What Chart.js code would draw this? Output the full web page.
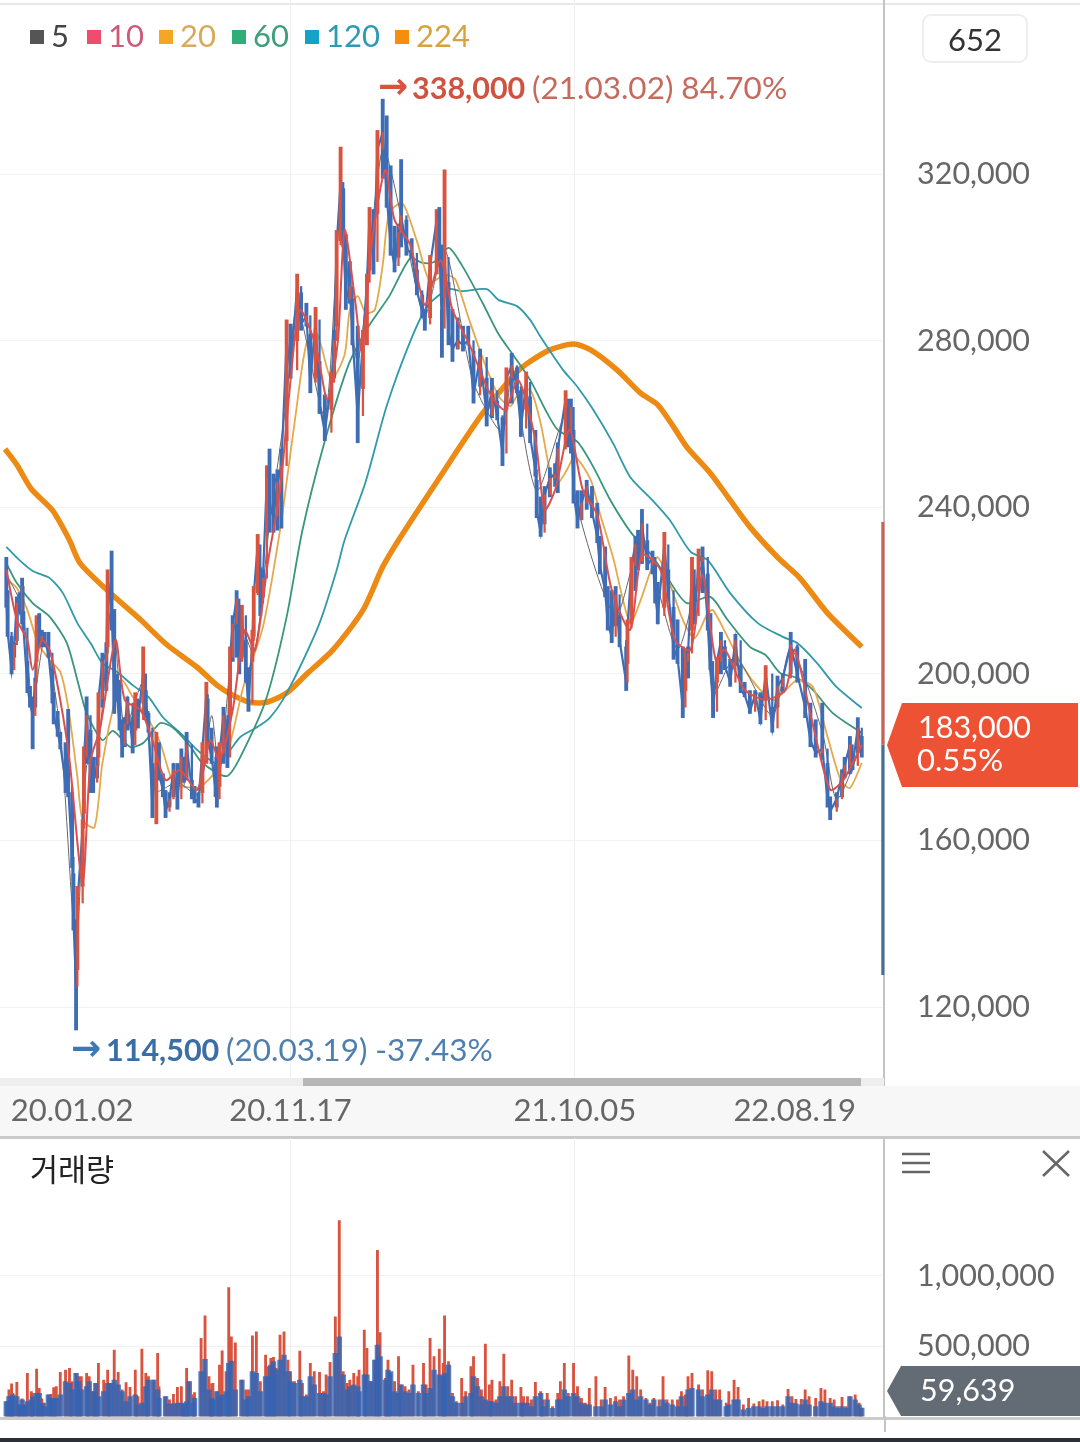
<!DOCTYPE html>
<html>
<head>
<meta charset="utf-8">
<script src="https://cdn.jsdelivr.net/npm/chart.js@4/dist/chart.umd.min.js"></script>
<style>
html,body{margin:0;padding:0;background:#fff;}
#wrap{position:relative;width:1080px;height:1442px;overflow:hidden;background:#fff;font-family:Lato,sans-serif;}
canvas{position:absolute;left:0;}
.box{position:absolute;}
.t{position:absolute;white-space:nowrap;font:31px/1 Lato,sans-serif;}
</style>
</head>
<body>
<div id="wrap">
  <div class="box" style="left:0;top:3px;width:1080px;height:2px;background:#e9e9e9"></div>
  <div class="box" style="left:0;top:1086px;width:1080px;height:50px;background:#f7f7f7"></div>
  <div class="box" style="left:0;top:1136px;width:1080px;height:3px;background:#c9c9c9"></div>
  <div class="box" style="left:0;top:1417px;width:1080px;height:3px;background:#cbcbcb"></div>
  <div class="box" style="left:884px;top:1416px;width:2px;height:16px;background:#c4c4c4"></div>
  <div class="box" style="left:0;top:1438px;width:1080px;height:4px;background:#2d3038"></div>
  <canvas id="priceChart" width="1080" height="1136" style="top:0"></canvas>
  <canvas id="volumeChart" width="1080" height="294" style="top:1138px"></canvas>
  <div class="box" style="left:0;top:1078px;width:884px;height:8px;background:#eeeeee"></div>
  <div class="box" style="left:303px;top:1078px;width:558px;height:8px;background:#b7b7b7"></div>
  <div id="legend"></div>
  <div class="box" style="left:922px;top:14px;width:102px;height:45px;border:2px solid #eeeeee;border-radius:9px"></div>
  <div class="t" style="left:922px;top:24px;width:106px;text-align:center;color:#333">652</div>

  <div class="t" style="left:378px;top:68px;color:#d9533f;font:bold 36px/1 'DejaVu Sans'">→</div>
  <div class="t" style="left:412px;top:72px;color:#cf5340;font:bold 30.5px/1 Lato" id="hiVal"></div>
  <div class="t" style="left:532px;top:72px;color:#c56a5c;font-size:31.5px" id="hiTxt"></div>
  <div class="t" style="left:71px;top:1030px;color:#3f78b5;font:bold 36px/1 'DejaVu Sans'">→</div>
  <div class="t" style="left:106px;top:1034px;color:#3b6ea5;font:bold 30.5px/1 Lato" id="loVal"></div>
  <div class="t" style="left:226px;top:1034px;color:#4f7fae;font-size:31.5px" id="loTxt"></div>

  <svg class="box" style="left:887px;top:703px" width="193" height="84"><polygon points="0,42 15,0 191,0 191,84 15,84" fill="#ee5235"/></svg>
  <div class="t" style="left:918px;top:711px;color:#fff;font-size:30.5px" id="tagPrice"></div>
  <div class="t" style="left:917px;top:744px;color:#fff" id="tagPct"></div>
  <svg class="box" style="left:887px;top:1366px" width="193" height="50"><polygon points="0,25 14,0 193,0 193,50 14,50" fill="#636b74"/></svg>
  <div class="t" style="left:920px;top:1374px;color:#fff;font-size:30.5px" id="tagVol"></div>

  <div class="t" style="left:30px;top:1153px;color:#222;font:30.5px/1 'Noto Sans CJK KR'">거래량</div>
  <svg class="box" style="left:900px;top:1148px" width="172" height="32" stroke="#666" stroke-width="2.5">
    <line x1="2" y1="6" x2="30" y2="6"/><line x1="2" y1="15" x2="30" y2="15"/><line x1="2" y1="24" x2="30" y2="24"/>
    <line x1="143" y1="3" x2="169" y2="28"/><line x1="169" y1="3" x2="143" y2="28"/>
  </svg>
</div>
<script>
/* prices in thousands of won, volumes in thousands of shares. x = trading day counted from 20.01.02 */
var priceTicks=[120,160,200,240,280,320];
var volumeTicks=[500,1000];
var dateDays=[51,217,433,600];
var dateLabels=['20.01.02','20.11.17','21.10.05','22.08.19'];
var gridDays=[217,433];

var candleDays=[1,2,5,7,9,11,13,14,17,19,
21,23,24,26,28,30,33,36,37,40,
42,46,48,51,52,54,55,59,60,62,
65,67,70,71,74,77,78,81,83,85,
87,89,91,93,97,99,101,105,107,109,
112,115,117,120,122,125,128,131,134,136,
138,142,144,147,150,153,154,157,160,161,
163,166,169,171,173,176,178,180,183,185,
188,189,192,194,196,199,201,204,207,210,
214,217,222,225,229,232,236,239,243,248,
250,252,255,257,259,262,264,268,272,275,
277,280,283,287,290,293,296,299,301,305,
309,313,317,319,323,328,330,332,334,337,
340,344,348,352,356,361,366,370,374,378,
381,385,389,392,396,399,403,404,407,410,
414,418,420,426,428,430,432,435,438,442,
446,450,452,456,458,461,464,467,472,473,
476,479,481,484,488,492,494,496,501,504,
508,511,515,517,519,522,524,527,530,534,
536,538,541,544,547,551,555,559,562,566,
570,574,578,583,587,591,597,602,608,612,
616,621,625,627,632,636,638,642,644,648,651];
var candleHighs=[228,220,209,207.5,218.5,219.5,223,215,203,197,
194.5,199,214,214.5,210.5,210,210,201,195.5,191,
186,183.5,191.5,171.5,152,138.5,149,165,182.5,194.5,
186.5,180,180,195.5,205,207.5,225,229.5,215.5,200,
198.5,189,189.5,194.5,189.5,195.5,191.5,206.5,196,190.5,
178.5,186,183.5,176,172,171.5,178.5,178.5,182,178,
186,174.5,173,171.5,183.5,198,194,187,178.5,182.5,
183.5,192,189,206.5,214,220,214,216.5,208,201.5,
210.5,221,233.5,225.5,225,250,254,248,249,254,
285,284,296,291.5,289,281.5,288,275,267,272.5,
282.5,306.5,326.5,316.5,305.5,299,290,283.5,282.5,296,
312,311.5,330.5,338,334,322,307.5,308,323.5,309,
304.5,297,291,287.5,300.5,311.5,312,287.5,321,294,
287.5,285.5,283.5,283.5,277.5,278,271,271,265.5,261.5,
273.5,277,273.5,268,272.5,266.5,258.5,246.5,242.5,245,
249.5,250.5,255.5,268,264,266,258.5,244,244,246.5,
245,241,233,230.5,221,220,221,214,206.5,213,
228,233,234.5,239.5,232,229.5,226.5,222,234,225,
216,213,206.5,206,206.5,228,221,230,230.5,224,
214.5,198,204,210,206.5,203.5,209.5,202,198,196,
196,195.5,202,192,199.5,200,210,206.5,203.5,193,
189,193,178.5,170.5,171.5,177,180,185,180,189.5,185];
var candleLows=[216,209,200,204,208,214.5,212,210.5,195.5,192,
182,192,203,206.5,206.5,206.5,204,193,188,185,
182,171.5,170.5,153.5,138.5,114.5,129,149,166.5,178.5,
171.5,171.5,175,180,192,196,206.5,210.5,190.5,193.5,
186.5,180,182.5,186.5,181,186.5,187,193,189.5,186,
165.5,164,174.5,170.5,165.5,168,170.5,167.5,174,174,
174.5,170,169,168,171.5,178.5,182.5,178.5,170.5,168,
173,178.5,177.5,190,203,204,200,204,198,191,
203,209,219.5,214,218.5,235,234,234,234.5,235,
256,271,280,282.5,283.5,267.5,271,262.5,256,263.5,
271,283.5,304,302.5,287.5,289,279,255.5,268.5,279,
297,296,310.5,319,312,300.5,296.5,300,302.5,300.5,
300,291,285.5,282.5,285.5,296,299,276,290.5,279,
275,278,277.5,279,265,269,259.5,261.5,261,250,
263.5,265,267.5,257,263.5,255.5,247.5,237.5,233,236,
242.5,245,243.5,254.5,254.5,253,241,235,237,239.5,
237.5,231.5,224,218.5,210.5,207.5,211.5,206.5,196,202.5,
212,220,225,226.5,225,224,217,212,216,218,
203.5,202.5,189.5,196,199,210.5,212,220,219.5,210.5,
201,189.5,198,200,201,197,202,195.5,194.5,190.5,
193,188,194,186,192,195.5,200,198,189.5,182.5,
180,179.5,168,165,168,170.5,175,176,177,181,180];
var candleCloses=[218,210,201,207,217,215,221,211,197,193,
190,198,212,208,209,208,205,195,190,186,
183,174,173,156,141,125,145,163,180,190,
175,174,178,194,203,205,223,215,196,195,
188,183,188,193,183,194,189,200,191,187,
168,180,176,172,167,170,177,170,180,175,
183,172,170,169,182,195,184,180,172,170,
181,190,180,204,212,218,203,214,200,193,
208,219,231,217,223,247,240,238,246,250,
280,273,293,284,286,270,285,265,258,270,
280,303,318,305,290,293,281,262,280,294,
310,299,326,330,315,303,298,306,310,302,
301,292,287,284,298,309,303,283,300,282,
278,280,279,280,267,276,262,268,262,253,
271,274,269,259,270,257,249,239,234,243,
247,248,254,266,258,264,243,237,241,245,
239,233,226,220,212,209,219,208,198,211,
226,231,227,236,226,228,219,214,231,220,
206,204,192,203,205,225,214,227,228,213,
203,191,203,208,202,198,208,196,195,191,
195,189,200,187,197,199,207,200,192,184,
181,182,170,167,170,176,178,183,178,187,183];

var ma5Days=[1,13,21,30,42,54,62,70,81,91,105,115,131,147,157,163,176,189,201,214,222,243,255,268,287,305,319,334,356,378,385,404,426,435,464,484,511,530,538,555,583,597,621,632,651];
var ma5Values=[224,216,193,208,186,135,178,180,216,187,198,172,174,171,190,176,214,205,236,266,288,262,310,275,326,304,286,302,270,258,272,244,262,240,214,232,206,226,195,204,190,206,186,170,183];
var ma10Days=[1,9,17,21,28,34,42,49,59,65,72,84,91,103,112,122,133,146,156,163,173,182,190,200,209,217,224,236,245,253,258,266,271,279,289,296,308,319,331,340,353,369,380,390,403,410,418,429,439,450,461,475,484,498,509,521,530,540,547,562,578,593,600,613,627,637,651];
var ma10Values=[225,213,208.1,201,208.1,205.7,193.7,179.3,149.8,179.3,186.5,208.1,193.7,191.3,184.1,174.5,176.9,172.1,184.1,179.3,191.3,210.5,205.7,227.3,244.1,270.6,287.4,279,265.8,280.2,306.6,289.8,277.8,304.2,321,309,303,288.6,299.4,287.4,279,267,263.4,270.6,256.2,239.4,244.2,258.6,244.2,238.2,220.2,210.6,228.6,225,208.2,205.8,223.8,203.4,205.8,196.2,193.8,196.2,205.8,189,172.2,174.5,183];
var ma20Days=[2,9,17,25,34,42,48,55,59,68,74,84,89,97,108,118,128,138,148,161,171,181,196,209,214,221,229,237,248,258,262,268,274,281,287,292,302,313,323,334,342,352,363,375,384,389,399,407,414,420,427,433,445,452,462,475,483,490,496,505,515,524,534,538,549,561,574,584,591,602,614,625,635,642,651];
var ma20Values=[222.5,220.6,215.3,207.4,203.3,200.5,192,175.2,164.9,163.2,178.6,194.5,198.5,194.5,189.6,183.4,173.8,172.8,172.8,176.9,183.4,196.8,211.3,234.5,246.1,262.6,279.2,281.6,270.8,276.6,287.4,290.7,286.7,287.4,298.2,310.7,313,303.9,294.1,295.8,294.8,285.7,275.8,266.7,264.3,266.7,268.2,260.2,249,245.8,249,252.1,246.6,238.6,228,212.2,217.7,224.2,228,221.8,213,208.6,214.6,215.3,208.9,201.6,196.1,193.7,195.4,198.5,196.8,184.9,174.5,172.6,178.6];
var ma60Days=[1,9,21,34,47,55,62,74,82,95,105,118,128,141,150,169,184,199,214,226,243,261,276,292,308,317,326,337,347,363,375,386,399,412,420,435,447,460,476,490,503,518,536,549,566,578,589,602,614,629,651];
var ma60Values=[226.6,221.8,217,213.7,207.4,198.5,190.6,184.1,186.3,182.5,183.4,188.2,187,182.5,178.6,175.5,183.4,194.5,213.7,234.5,255.9,274.2,283.3,290.7,299.8,298.7,298.9,302.3,298.2,289,281.6,276.6,270.6,262.6,258.6,255.7,249.7,241.7,233.8,229,223.2,217,218.5,213,206.5,204.5,200.2,199,196.1,190.6,185.8];
var ma120Days=[1,11,21,34,44,55,65,74,85,97,109,120,135,148,161,171,179,192,201,211,224,239,252,258,274,290,308,321,337,347,366,375,389,399,407,424,435,447,462,475,492,505,521,534,551,572,591,602,617,632,651];
var ma120Values=[230.5,227.3,224.7,223,219.4,212.2,207.4,202.6,200.5,197.3,194.5,189.6,185.3,181.2,178.6,181.7,184.9,187.3,189.4,193.7,201.6,212.2,224.9,232.1,246.1,264.3,279.9,288.3,292.4,291.9,292.4,289.8,288.3,285,280.9,273,268.9,263.4,255.4,247.3,241.7,237,229.3,227.3,219.4,212.2,208.9,207.4,202.6,196.8,191.8];
var ma224Days=[0,9,20,36,49,57,80,103,123,146,161,173,186,199,214,230,249,272,287,299,328,363,389,397,414,432,445,465,483,496,508,518,536,551,566,587,604,625,651];
var ma224Values=[254,250.2,244.4,239.3,232.1,226.6,219.4,213,207,201.6,197.3,194.9,193.2,193.2,195.4,200.2,205.7,215.3,225.7,232.1,246.1,262.6,272.5,274.6,277.8,279.2,277.8,273,267.4,264.6,259.3,254.5,248.2,241.7,235.3,228,223,214.6,206.5];

var rangeDay=667;
var rangeUp=[183,236.5];
var rangeDown=[183,127.7];

var volDays=[1,3,5,6,9,11,13,15,17,20,
21,24,26,28,30,33,35,37,39,42,
46,49,51,54,56,58,62,64,67,69,
71,75,78,80,83,86,89,92,95,99,
101,104,107,109,113,116,117,122,125,128,
131,134,136,138,140,143,144,149,152,155,
157,158,161,163,165,168,170,172,175,180,
183,185,188,191,194,198,200,202,204,206,
209,212,215,217,220,224,226,229,232,235,
239,242,244,247,251,254,257,260,262,265,
268,269,273,275,278,281,283,285,289,291,
293,296,299,301,304,307,310,314,318,320,
323,326,330,333,334,337,340,343,347,350,
354,356,359,362,365,368,370,373,376,379,
382,385,388,392,394,397,400,403,407,409,
412,416,420,422,425,428,432,435,438,441,
444,449,453,456,460,464,467,470,474,477,
480,483,487,490,493,497,500,503,507,511,
514,517,519,522,527,530,534,537,540,543,
548,550,554,557,561,565,569,573,576,579,
583,587,591,595,598,601,605,608,611,616,
620,623,627,630,633,636,639,642,646,649,651];
var volUp=[106,189,232,165,243,83,125,83,307,177,
165,338,201,125,95,154,158,206,213,314,
331,343,248,307,284,284,307,284,177,236,
378,260,331,236,473,314,189,241,208,331,
142,480,307,284,260,449,213,142,118,158,
208,213,71,343,248,154,170,556,716,284,
232,236,177,366,468,319,917,567,525,260,
189,189,574,603,248,437,355,414,421,343,
579,603,402,319,248,466,236,154,378,319,
314,177,296,385,709,1395,319,236,260,307,
284,331,615,485,248,402,1182,598,272,402,
307,248,426,225,213,189,366,177,378,225,
556,426,480,378,716,390,165,106,272,177,
355,426,272,189,515,225,260,118,248,444,
213,260,142,208,142,142,118,243,177,118,
165,71,165,248,378,165,378,213,130,95,
201,284,118,208,130,142,118,142,432,331,
284,189,130,95,130,118,284,118,118,118,
177,154,284,307,225,189,326,319,189,189,
95,177,260,208,83,130,90,106,118,106,
106,113,83,194,142,123,123,189,142,130,
201,189,130,118,71,137,71,142,154,95,60];
var volDown=[106,142,142,154,142,83,118,76,106,118,
142,165,165,95,71,154,130,125,130,154,
248,236,189,307,248,189,213,248,177,236,
142,177,236,236,260,225,177,106,142,154,
83,95,213,260,260,189,130,142,90,90,
95,95,90,106,248,95,130,319,407,189,
130,118,177,142,154,177,378,395,189,260,
118,142,319,307,177,284,284,366,390,331,
402,437,319,248,236,260,142,142,284,225,
165,165,154,284,449,567,296,189,213,225,
213,177,296,296,248,402,508,426,260,331,
319,177,165,225,177,165,225,165,225,165,
201,331,296,284,307,366,142,95,95,142,
165,284,213,142,118,106,106,95,142,213,
142,142,95,95,95,95,71,142,165,71,
118,59,118,118,189,142,165,142,95,83,
83,71,71,118,83,106,71,118,165,189,
118,142,118,83,118,71,118,95,83,71,
142,71,189,201,189,142,154,189,118,118,
71,83,118,118,47,59,71,71,59,71,
71,71,71,142,95,90,83,118,83,71,
106,95,95,71,59,71,59,142,118,83,60];

var legendNames=['5','10','20','60','120','224'];
var legendSquares=['#555555','#ee4d6d','#f5a623','#2fae7a','#14a3c7','#f78d0f'];
var legendColors=['#444444','#cf5a78','#d9a95a','#3f9e7f','#2a9ab5','#d9a23f'];
var legendLefts=[30,87,159,232,305,395];

var UP='#d9533f',DOWN='#3e6db5';

Chart.defaults.font.family='Lato';
Chart.defaults.animation=false;

function pts(xs,ys){return xs.map(function(x,i){return{x:x,y:ys[i]};});}
function fmt(v){return (v*1000).toLocaleString('en-US');}
function maLine(label,xs,ys,col,w,ord){
  return{type:'line',label:label,data:pts(xs,ys),borderColor:col,borderWidth:w,pointRadius:0,tension:0.25,order:ord};
}

/* legend + texts */
var lg=document.getElementById('legend');
legendNames.forEach(function(n,i){
  var s=document.createElement('div');s.className='box';
  s.style.cssText='left:'+legendLefts[i]+'px;top:30px;width:14px;height:14px;background:'+legendSquares[i];
  lg.appendChild(s);
  var t=document.createElement('div');t.className='t';t.textContent=n;
  t.style.cssText='left:'+(legendLefts[i]+21)+'px;top:20px;color:'+legendColors[i];
  lg.appendChild(t);
});
document.getElementById('hiVal').textContent='338,000';
document.getElementById('hiTxt').textContent='(21.03.02) 84.70%';
document.getElementById('loVal').textContent='114,500';
document.getElementById('loTxt').textContent='(20.03.19) -37.43%';
document.getElementById('tagPrice').textContent=fmt(183);
document.getElementById('tagPct').textContent='0.55%';
document.getElementById('tagVol').textContent='59,639';

/* shared x axis: day 0 sits at 5px, 1.316px per day, plot runs to 884px */
function xScale(withLabels){
  return{
    type:'linear',min:-3.8,max:667.9,offset:false,
    afterBuildTicks:function(s){
      s.ticks=(withLabels?dateDays:gridDays).map(function(v){return{value:v};});
    },
    afterFit:function(s){s.height=withLabels?51:15.5;s.paddingLeft=0;s.paddingRight=0;},
    grid:{offset:false,drawTicks:false,color:function(c){
      return gridDays.indexOf(c.tick.value)>=0?'#efefef':'rgba(0,0,0,0)';
    }},
    border:{display:false},
    ticks:{
      display:withLabels,autoSkip:false,maxRotation:0,padding:7,color:'#666',font:{size:31},
      callback:function(v){return dateLabels[dateDays.indexOf(v)];}
    }
  };
}
function yScale(min,max,tickVals){
  return{
    position:'right',min:min,max:max,
    afterBuildTicks:function(s){s.ticks=tickVals.map(function(v){return{value:v};});},
    /* tick padding would otherwise also inset the plot top and bottom */
    afterFit:function(s){s.width=196;s.paddingTop=0;s.paddingBottom=0;},
    grid:{drawTicks:false,color:'#f1f1f1'},
    border:{display:true,color:'#c4c4c4',width:2},
    ticks:{padding:33,color:'#666',font:{size:30.5},autoSkip:false,callback:function(v){return fmt(v);}}
  };
}

/* candles: open taken as previous close. wicks stay blue unless the day rose hard */
var wickData=[],bodyData=[],bodyCols=[],wickCols=[];
candleDays.forEach(function(d,i){
  var op=i?candleCloses[i-1]:candleCloses[i];
  wickData.push({x:d,y:[candleLows[i],candleHighs[i]]});
  bodyData.push({x:d,y:[op,candleCloses[i]]});
  bodyCols.push(candleCloses[i]>=op?UP:DOWN);
  wickCols.push(candleCloses[i]-op>10?UP:DOWN);
});

new Chart(document.getElementById('priceChart'),{
  type:'bar',
  data:{datasets:[
    maLine('10',ma10Days,ma10Values,'#d9504f',2,1),
    {label:'body',data:bodyData,backgroundColor:bodyCols,barThickness:1.6,grouped:false,order:2},
    {label:'wick',data:wickData,backgroundColor:wickCols,barThickness:3.2,grouped:false,order:3},
    /* closes joined up, the real chart has three times as many bars so the mass reads as one band */
    {type:'line',label:'close',data:pts(candleDays,candleCloses),borderColor:DOWN,borderWidth:2.2,pointRadius:0,tension:0,order:4},
    maLine('5',ma5Days,ma5Values,'#666666',1,5),
    maLine('20',ma20Days,ma20Values,'#e5a94b',1.8,6),
    maLine('60',ma60Days,ma60Values,'#37967c',1.8,7),
    maLine('120',ma120Days,ma120Values,'#2f9aa8',1.8,8),
    maLine('224',ma224Days,ma224Values,'#ec8a14',5.5,9),
    {type:'line',label:'up',data:[{x:rangeDay,y:rangeUp[0]},{x:rangeDay,y:rangeUp[1]}],borderColor:'#cf5f4e',borderWidth:3,pointRadius:0,clip:false,order:0},
    {type:'line',label:'down',data:[{x:rangeDay,y:rangeDown[0]},{x:rangeDay,y:rangeDown[1]}],borderColor:'#3f7199',borderWidth:3,pointRadius:0,clip:false,order:0}
  ]},
  options:{
    responsive:false,
    layout:{padding:0},
    plugins:{legend:{display:false},tooltip:{enabled:false}},
    scales:{x:xScale(true),y:yScale(101.3,361.8,priceTicks)}
  }
});

new Chart(document.getElementById('volumeChart'),{
  type:'bar',
  data:{datasets:[
    {label:'down',data:pts(volDays,volDown),backgroundColor:'rgba(50,100,180,0.82)',barThickness:4.8,grouped:false,order:1},
    {label:'up',data:pts(volDays,volUp),backgroundColor:'#d9533f',barThickness:2.2,grouped:false,order:2}
  ]},
  options:{
    responsive:false,
    layout:{padding:0},
    plugins:{legend:{display:false},tooltip:{enabled:false}},
    scales:{x:xScale(false),y:yScale(0,1982,volumeTicks)}
  }
});
</script>
</body>
</html>
